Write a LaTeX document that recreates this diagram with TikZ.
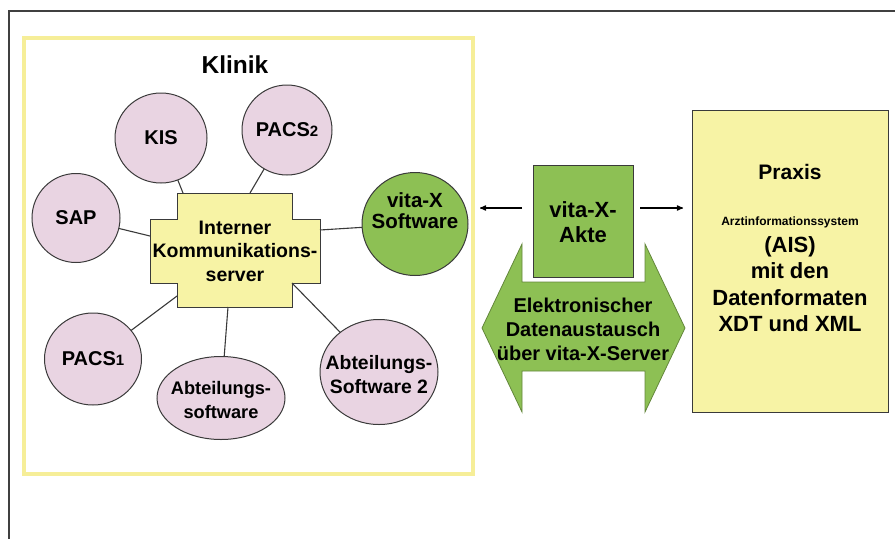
\documentclass[tikz,border=0pt]{standalone}
\usepackage{fontspec}
\setmainfont{Liberation Sans}
\usepackage{tikz}
\usetikzlibrary{shapes,arrows,positioning}
\usepackage{xcolor}
\definecolor{rosa}{HTML}{E9D4E2}
\definecolor{gelb}{HTML}{F7F3A5}
\definecolor{rahmen}{HTML}{F6EE98}
\definecolor{gruen}{HTML}{8DC054}
\definecolor{linie}{HTML}{3A3A3A}
\newcommand{\schrift}[2]{\bfseries\fontsize{#1}{#2}\selectfont}

\begin{document}
\begin{tikzpicture}[x=1pt, y=-1pt, >=stealth', font=\bfseries]
        \tikzstyle{every node}=[inner sep=0pt, outer sep=0pt]
        \tikzstyle{kreis}=[draw=linie, fill=rosa, ellipse, line width=1pt]
        \tikzstyle{gruenkreis}=[kreis, fill=gruen]
        \tikzstyle{verbinder}=[draw=linie, line width=1.1pt]
        \tikzstyle{pfeil}=[->, draw=black, line width=1.2pt]
        \tikzstyle{txt}=[align=center, text=black]
        \useasboundingbox (0,0) rectangle (895,539);
        \draw[line width=1.3pt, black!75] (895,11) -- (9,11) -- (9,539);

        % Klinik
        \node[draw=rahmen, line width=4pt, minimum width=449pt, minimum height=436pt] (klinik) at (248.5,256) {};
        \node[font=\schrift{24.5}{29}] (klinik-titel) at (235,65) {Klinik};

        % Kommunikationsserver
        \filldraw[fill=gelb, draw=linie, line width=1pt] (177,193) -- (292,193) -- (292,219) -- (320,219)
            -- (320,283) -- (292,283) -- (292,307) -- (177,307) -- (177,283) -- (150,283) -- (150,219) -- (177,219) -- cycle;
        \node[txt, font=\schrift{19.5}{23.5}] (server) at (235,251) {Interner\\Kommunikations-\\server};
        \coordinate (s-sap)   at (150,236);
        \coordinate (s-kis)   at (183,193);
        \coordinate (s-pacs2) at (250,193);
        \coordinate (s-vita)  at (320,230);
        \coordinate (s-pacs1) at (177,296);
        \coordinate (s-abt)   at (228,307);
        \coordinate (s-abt2)  at (292,283);

        \node[kreis, minimum width=92pt, minimum height=90pt, font=\schrift{20}{24}] (kis) at (161,138) {KIS};
        \node[kreis, minimum width=90pt, minimum height=90pt, font=\schrift{20}{24}] (pacs2) at (287,130) {PACS{\fontsize{15}{15}\selectfont 2}};
        \node[kreis, minimum width=88pt, minimum height=89pt, font=\schrift{20}{24}] (sap) at (76,218) {SAP};
        \node[gruenkreis, minimum width=106pt, minimum height=103pt] (vita) at (415,224) {};
        \node[txt, font=\schrift{20.5}{21}] (vita-t) at (415,211) {vita-X\\Software};
        \node[kreis, minimum width=97pt, minimum height=92pt, font=\schrift{20}{24}] (pacs1) at (93,359) {PACS{\fontsize{15}{15}\selectfont 1}};
        \node[kreis, minimum width=128pt, minimum height=83pt] (abt) at (221,398) {};
        \node[txt, font=\schrift{18.2}{24}] (abt-t) at (221,400) {Abteilungs-\\software};
        \node[kreis, minimum width=118pt, minimum height=105pt] (abt2) at (379,372) {};
        \node[txt, font=\schrift{19.4}{24}] (abt2-t) at (379,375) {Abteilungs-\\Software 2};

        \draw[verbinder] (sap) -- (s-sap);
        \draw[verbinder] (kis) -- (s-kis);
        \draw[verbinder] (pacs2) -- (s-pacs2);
        \draw[verbinder] (vita) -- (s-vita);
        \draw[verbinder] (pacs1) -- (s-pacs1);
        \draw[verbinder] (abt) -- (s-abt);
        \draw[verbinder] (abt2) -- (s-abt2);

        % vita-X-Akte und Datenaustausch
        \node[draw=linie, fill=gruen, line width=1pt, minimum width=100pt, minimum height=112pt] (akte) at (583,221) {};
        \node[txt, font=\schrift{22}{25}] (akte-t) at (583,222) {vita-X-\\Akte};
        \filldraw[fill=gruen, draw=gruen!70!black, line width=0.8pt] (482,328) -- (522,244) -- (522,282) -- (645,282)
            -- (645,244) -- (685,328) -- (645,412) -- (645,371) -- (522,371) -- (522,412) -- cycle;
        \node[txt, font=\schrift{20}{24}] (austausch) at (583,329) {Elektronischer\\Datenaustausch\\über vita-X-Server};

        % Praxis
        \node[draw=linie, fill=gelb, line width=1pt, minimum width=196pt, minimum height=302pt] (praxis) at (790,261) {};
        \node[font=\schrift{21}{25}] (praxis-titel) at (790,172) {Praxis};
        \node[font=\schrift{12}{14}] (ais-lang) at (790,222) {Arztinformationssystem};
        \node[txt, font=\schrift{22}{26.3}] (praxis-t) at (790,284) {(AIS)\\mit den\\Datenformaten\\XDT und XML};

        \draw[pfeil] ([xshift=-11pt, yshift=13pt]akte.west) -- ([xshift=12pt, yshift=16pt]vita.east);
        \draw[pfeil] ([xshift=7pt, yshift=13pt]akte.east) -- ([xshift=-9pt, yshift=53pt]praxis.west);
    \end{tikzpicture}
\end{document}
